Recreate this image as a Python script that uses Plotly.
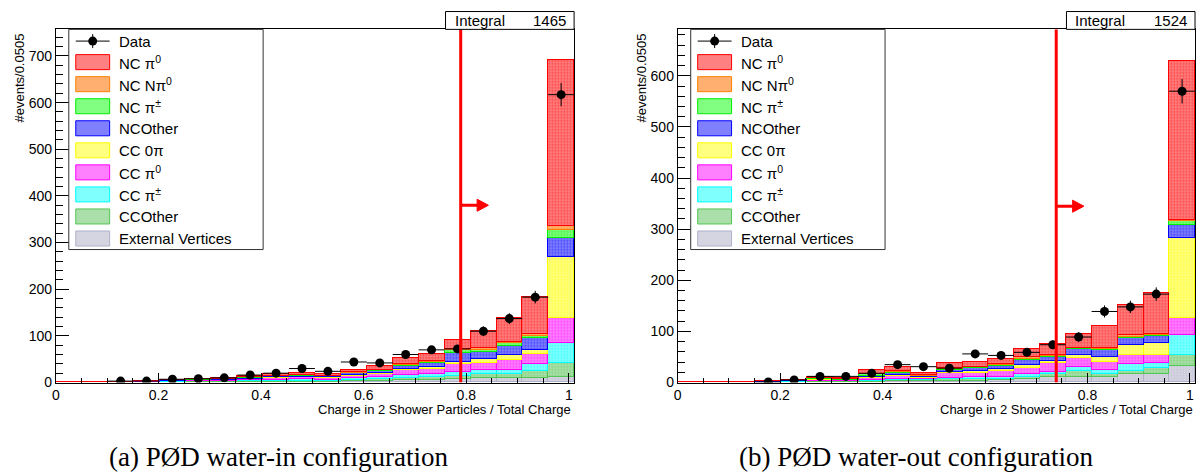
import math
import plotly.graph_objects as go

W, H = 1203, 475
H_EFF = 466  # measured effective rendered height used for pixel -> paper conversion


def px(x):
    return x / W


def py(y):
    return 1 - y / H_EFF


# ---------------- data ----------------
bin_width = 0.0505
bin_centers = [0.02525, 0.07575, 0.12625, 0.17675, 0.22725, 0.27775, 0.32825,
               0.37875, 0.42925, 0.47975, 0.53025, 0.58075, 0.63125, 0.68175,
               0.73225, 0.78275, 0.83325, 0.88375, 0.93425, 0.98475]

# (a) water-in
ext_L    = [0, 0, 0, 0, 0.5, 0.5, 0.5, 1, 1, 1, 1, 2, 2, 4, 4, 6, 9, 8, 9, 11]
ccoth_L  = [0, 0, 0, 0, 0.5, 1, 1, 1, 2, 2, 2, 3, 4, 5, 7, 8, 8, 9, 15, 31]
ccpipm_L = [0, 0, 0, 0.5, 1, 1, 1, 2, 2, 3, 2, 3, 4, 6, 7, 8, 10, 10, 14, 43]
ccpi0_L  = [0, 0, 1, 2, 1.5, 2, 2, 3, 4, 4, 4, 6, 7, 10, 11, 16, 15, 20, 22, 53]
cc0pi_L  = [0, 0, 0, 0, 0, 0, 0.5, 0.5, 1, 1, 1, 1, 2, 3, 3, 5, 7, 11, 10, 131]
ncoth_L  = [0, 0, 0, 0.5, 0.5, 1, 1, 2, 3, 3, 3, 4, 5, 7, 9, 20, 16, 20, 24, 41]
ncpipm_L = [0, 0, 0, 0, 0, 0.5, 0.5, 0.5, 1, 1, 1, 1, 1, 2, 3, 5, 5, 5, 6, 17]
ncnpi0_L = [0, 0, 0, 0, 0, 0, 0, 0, 0, 1, 0, 1, 1, 1, 1, 4, 4, 3, 3, 7]
ncpi0_L  = [0, 0, 0, 0, 1, 1, 1.5, 3, 4, 4, 4, 6, 8, 13, 15, 18, 36, 51, 79, 356]
data_L   = [None, None, 3, 3, 7, 8, 10, 16, 20, 30, 24, 44, 42, 60, 70, 72, 110, 137, 183, 617]

# (b) water-out
ext_R    = [0, 0, 0, 0, 0, 1, 1, 1, 2, 2, 3, 3, 4, 6, 10, 11, 10, 15, 16, 31]
ccoth_R  = [0, 0, 0, 0, 1, 1, 1, 2, 2, 2, 3, 3, 3, 5, 5, 10, 6, 7, 11, 22]
ccpipm_R = [0, 0, 0, 0.5, 0.5, 1, 1, 2, 3, 2, 3, 4, 4, 5, 5, 9, 7, 13, 11, 40]
ccpi0_R  = [0, 0, 1, 0.5, 1, 2, 1, 4, 5, 3, 8, 8, 10, 12, 17, 18, 17, 18, 16, 32]
cc0pi_R  = [0, 0, 0, 0, 0, 0.5, 0, 1, 2, 1, 3, 4, 5, 5, 4, 5, 10, 19, 23, 157]
ncoth_R  = [0, 0, 0, 1, 1.5, 1.5, 1, 3, 4, 2, 4, 5, 5, 10, 8, 11, 13, 14, 13, 26]
ncpipm_R = [0, 0, 0, 0, 1, 1, 0.5, 2, 2, 1, 2, 2, 2, 3, 2, 2, 2, 3, 2, 8]
ncnpi0_R = [0, 0, 0, 0, 0, 0.5, 0.5, 1, 1, 1, 1, 1, 2, 3, 2, 1, 2, 3, 2, 2]
ncpi0_R  = [0, 0, 0, 0, 0, 2.5, 2, 7, 9, 4, 10, 10, 11, 15, 21, 28, 42, 59, 80, 310]
data_R   = [None, None, None, 1, 5, 12, 12, 18, 35, 31, 28, 56, 53, 59, 74, 89, 139, 148, 173, 570]

integral_L, integral_R = 1465, 1524
cut_L, cut_R = 0.789, 0.739
arrow_y_L, arrow_y_R = 380, 345
ymax_L, ymax_R = 757, 691

legend_labels = ["NC π<sup>0</sup>", "NC Nπ<sup>0</sup>", "NC π<sup>±</sup>", "NCOther",
                 "CC 0π", "CC π<sup>0</sup>", "CC π<sup>±</sup>", "CCOther", "External Vertices"]
line_colors = ["#ff0000", "#ff8000", "#00ee00", "#0000ff", "#ffff00", "#ff00ff",
               "#00ffff", "#55c555", "#b0b0c8"]
fill_colors = ["#ff8080", "#ffb070", "#80ff80", "#8080ff", "#ffff80", "#ff80ff",
               "#80ffff", "#aadfaa", "#d5d5e2"]

stack_L = [ncpi0_L, ncnpi0_L, ncpipm_L, ncoth_L, cc0pi_L, ccpi0_L, ccpipm_L, ccoth_L, ext_L]
stack_R = [ncpi0_R, ncnpi0_R, ncpipm_R, ncoth_R, cc0pi_R, ccpi0_R, ccpipm_R, ccoth_R, ext_R]

FONT = "Liberation Sans, Arial, sans-serif"

fig = go.Figure()

for stack, data, xa, ya in [(stack_L, data_L, "x", "y"), (stack_R, data_R, "x2", "y2")]:
    for k in reversed(range(len(stack))):
        fig.add_trace(go.Bar(
            x=bin_centers, y=stack[k], width=bin_width, xaxis=xa, yaxis=ya,
            marker=dict(color=fill_colors[k],
                        line=dict(color=line_colors[k], width=1),
                        pattern=dict(shape=".", fgcolor=line_colors[k],
                                     bgcolor=fill_colors[k], size=3, solidity=0.35)),
            showlegend=False, hoverinfo="skip"))
    xs = [c for c, d in zip(bin_centers, data) if d is not None]
    ys = [d for d in data if d is not None]
    fig.add_trace(go.Scatter(
        x=xs, y=ys, mode="markers", xaxis=xa, yaxis=ya,
        marker=dict(color="black", size=9, symbol="circle"),
        error_x=dict(type="constant", value=bin_width / 2, color="black", thickness=1, width=0),
        error_y=dict(type="data", array=[math.sqrt(v) for v in ys], color="black",
                     thickness=1, width=0),
        showlegend=False, hoverinfo="skip"))

ybot, ytop = 381.7, 29.3
axis_common = dict(showline=True, linecolor="black", linewidth=1, mirror=True,
                   showgrid=False, zeroline=False, ticks="inside", tickcolor="black",
                   tickfont=dict(family=FONT, size=14, color="black"))

fig.update_layout(
    width=W, height=H, margin=dict(l=0, r=0, t=0, b=0),
    paper_bgcolor="white", plot_bgcolor="white",
    barmode="stack", bargap=0, showlegend=False,
    font=dict(family=FONT, color="black"),
    xaxis=dict(domain=[px(52), px(572)], range=[0, 1.01], anchor="y", dtick=0.2, tick0=0,
               ticklen=10, minor=dict(dtick=0.05, ticks="inside", ticklen=5, tickcolor="black"),
               **axis_common),
    yaxis=dict(domain=[py(ybot), py(ytop)], range=[0, ymax_L], anchor="x", dtick=100,
               ticklen=13, minor=dict(dtick=20, ticks="inside", ticklen=7, tickcolor="black"),
               **axis_common),
    xaxis2=dict(domain=[px(676), px(1195)], range=[0, 1.01], anchor="y2", dtick=0.2, tick0=0,
                ticklen=10, minor=dict(dtick=0.05, ticks="inside", ticklen=5, tickcolor="black"),
                **axis_common),
    yaxis2=dict(domain=[py(ybot), py(ytop)], range=[0, ymax_R], anchor="x2", dtick=100,
                ticklen=13, minor=dict(dtick=20, ticks="inside", ticklen=7, tickcolor="black"),
                **axis_common),
)

shapes = []
annotations = []
plot_h_px = ybot - ytop

panels = [
    dict(xa="x", ya="y", cut=cut_L, ay=arrow_y_L, ymax=ymax_L, integral=integral_L,
         box=(443, 572), leg_dx=0, ytitle_x=16, xtitle_r=571, cap_x=103,
         caption="(a) PØD water-in configuration"),
    dict(xa="x2", ya="y2", cut=cut_R, ay=arrow_y_R, ymax=ymax_R, integral=integral_R,
         box=(1066, 1195), leg_dx=624, ytitle_x=640, xtitle_r=1195, cap_x=735,
         caption="(b) PØD water-out configuration"),
]

for p in panels:
    # cut line
    shapes.append(dict(type="line", xref=p["xa"], yref=p["ya"], x0=p["cut"], x1=p["cut"],
                       y0=0, y1=p["ymax"], line=dict(color="red", width=3)))
    # arrow (line + filled head)
    c, ya_ = p["cut"], p["ay"]
    hh = 6 * p["ymax"] / plot_h_px
    shapes.append(dict(type="line", xref=p["xa"], yref=p["ya"], x0=c, x1=c + 0.034,
                       y0=ya_, y1=ya_, line=dict(color="red", width=3)))
    shapes.append(dict(type="path", xref=p["xa"], yref=p["ya"],
                       path=f"M {c + 0.032} {ya_ - hh} L {c + 0.054} {ya_} L {c + 0.032} {ya_ + hh} Z",
                       fillcolor="red", line=dict(color="red", width=1)))
    # Integral box
    b0, b1 = p["box"]
    shapes.append(dict(type="rect", xref="paper", yref="paper", x0=px(b0), x1=px(b1),
                       y0=py(29.3), y1=py(11.5), line=dict(color="black", width=1),
                       fillcolor="white"))
    annotations.append(dict(xref="paper", yref="paper", x=px(b0 + 7), y=py(20.5),
                            text="Integral", showarrow=False, xanchor="left", yanchor="middle",
                            font=dict(family=FONT, size=15, color="black")))
    annotations.append(dict(xref="paper", yref="paper", x=px(b1 - 6), y=py(20.5),
                            text=str(p["integral"]), showarrow=False, xanchor="right",
                            yanchor="middle", font=dict(family=FONT, size=15, color="black")))
    # legend box
    dx = p["leg_dx"]
    shapes.append(dict(type="rect", xref="paper", yref="paper", x0=px(65 + dx), x1=px(260 + dx),
                       y0=py(249), y1=py(29.3), line=dict(color="#333333", width=1),
                       fillcolor="white"))
    shapes.append(dict(type="line", xref="paper", yref="paper", x0=px(72 + dx), x1=px(106 + dx),
                       y0=py(41), y1=py(41), line=dict(color="black", width=1)))
    shapes.append(dict(type="line", xref="paper", yref="paper", x0=px(89 + dx), x1=px(89 + dx),
                       y0=py(34), y1=py(48), line=dict(color="black", width=1)))
    shapes.append(dict(type="circle", xref="paper", yref="paper", x0=px(84.5 + dx),
                       x1=px(93.5 + dx), y0=py(45.5), y1=py(36.5),
                       fillcolor="black", line=dict(color="black", width=0)))
    annotations.append(dict(xref="paper", yref="paper", x=px(113 + dx), y=py(41), text="Data",
                            showarrow=False, xanchor="left", yanchor="middle",
                            font=dict(family=FONT, size=15, color="black")))
    for i, lab in enumerate(legend_labels):
        yc = 62 + 22 * i
        shapes.append(dict(type="rect", xref="paper", yref="paper", x0=px(72 + dx),
                           x1=px(106 + dx), y0=py(yc + 7.5), y1=py(yc - 7.5),
                           fillcolor=fill_colors[i], line=dict(color=line_colors[i], width=1)))
        annotations.append(dict(xref="paper", yref="paper", x=px(113 + dx), y=py(yc), text=lab,
                                showarrow=False, xanchor="left", yanchor="middle",
                                font=dict(family=FONT, size=15, color="black")))
    annotations.append(dict(xref="paper", yref="paper", x=px(p["ytitle_x"]), y=py(31),
                            text="#events/0.0505", textangle=-90, showarrow=False,
                            xanchor="center", yanchor="top",
                            font=dict(family=FONT, size=13, color="black")))
    annotations.append(dict(xref="paper", yref="paper", x=px(p["xtitle_r"]), y=py(409),
                            text="Charge in 2 Shower Particles / Total Charge", showarrow=False,
                            xanchor="right", yanchor="middle",
                            font=dict(family=FONT, size=13, color="black")))
    annotations.append(dict(xref="paper", yref="paper", x=px(p["cap_x"]), y=py(456),
                            text=p["caption"], showarrow=False, xanchor="left",
                            yanchor="middle",
                            font=dict(family="Liberation Serif, serif", size=27, color="black")))

fig.update_layout(shapes=shapes, annotations=annotations)
fig.write_html("out.html")
